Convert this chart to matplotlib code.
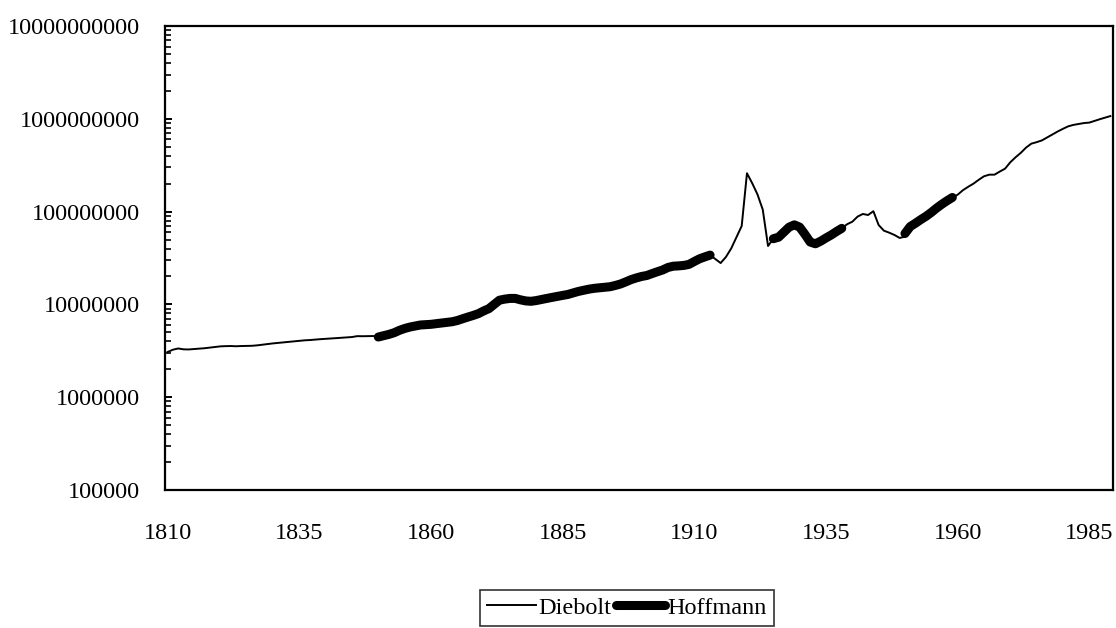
import matplotlib
matplotlib.use("Agg")
import matplotlib.pyplot as plt
from matplotlib.ticker import FixedLocator, LogLocator, NullFormatter

# Diebolt series, annual values 1810-1989
diebolt_years = list(range(1810, 1990))
diebolt = [
    # 1810-1849
    3.07e6, 3.25e6, 3.35e6, 3.28e6, 3.27e6, 3.30e6, 3.33e6, 3.37e6, 3.42e6, 3.48e6,
    3.53e6, 3.55e6, 3.56e6, 3.54e6, 3.56e6, 3.57e6, 3.58e6, 3.62e6, 3.68e6, 3.74e6,
    3.80e6, 3.85e6, 3.90e6, 3.96e6, 4.00e6, 4.05e6, 4.10e6, 4.13e6, 4.18e6, 4.22e6,
    4.26e6, 4.30e6, 4.33e6, 4.37e6, 4.40e6, 4.45e6, 4.55e6, 4.54e6, 4.55e6, 4.56e6,
    # 1850-1889
    4.50e6, 4.60e6, 4.75e6, 4.95e6, 5.25e6, 5.50e6, 5.70e6, 5.85e6, 6.00e6, 6.05e6,
    6.10e6, 6.20e6, 6.30e6, 6.40e6, 6.50e6, 6.70e6, 7.00e6, 7.30e6, 7.60e6, 7.95e6,
    8.50e6, 9.00e6, 1.00e7, 1.11e7, 1.14e7, 1.16e7, 1.16e7, 1.12e7, 1.09e7, 1.08e7,
    1.10e7, 1.13e7, 1.16e7, 1.19e7, 1.22e7, 1.25e7, 1.28e7, 1.33e7, 1.38e7, 1.42e7,
    # 1890-1929
    1.46e7, 1.49e7, 1.51e7, 1.53e7, 1.55e7, 1.60e7, 1.66e7, 1.75e7, 1.85e7, 1.93e7,
    2.00e7, 2.05e7, 2.15e7, 2.25e7, 2.35e7, 2.50e7, 2.58e7, 2.60e7, 2.63e7, 2.70e7,
    2.90e7, 3.10e7, 3.25e7, 3.40e7, 3.08e7, 2.79e7, 3.24e7, 4.00e7, 5.30e7, 7.00e7,
    2.59e8, 2.02e8, 1.53e8, 1.05e8, 4.26e7, 5.10e7, 5.30e7, 6.00e7, 6.80e7, 7.20e7,
    # 1930-1969
    6.80e7, 5.70e7, 4.70e7, 4.50e7, 4.80e7, 5.20e7, 5.60e7, 6.10e7, 6.60e7, 7.30e7,
    7.78e7, 8.83e7, 9.43e7, 9.19e7, 1.01e8, 7.17e7, 6.23e7, 5.93e7, 5.60e7, 5.20e7,
    5.37e7, 6.90e7, 7.50e7, 8.20e7, 8.90e7, 9.80e7, 1.09e8, 1.20e8, 1.31e8, 1.42e8,
    1.52e8, 1.70e8, 1.85e8, 2.00e8, 2.20e8, 2.40e8, 2.50e8, 2.50e8, 2.70e8, 2.90e8,
    # 1970-1989
    3.40e8, 3.85e8, 4.30e8, 4.90e8, 5.40e8, 5.60e8, 5.85e8, 6.30e8, 6.80e8, 7.30e8,
    7.80e8, 8.30e8, 8.60e8, 8.80e8, 9.00e8, 9.10e8, 9.50e8, 9.90e8, 1.03e9, 1.07e9,
]

# Hoffmann series, three separate stretches
hoff_years_1 = list(range(1850, 1914))
hoff_1 = [
    4.45e6, 4.60e6, 4.75e6, 4.95e6, 5.25e6, 5.50e6, 5.70e6, 5.85e6, 6.00e6, 6.05e6,
    6.10e6, 6.20e6, 6.30e6, 6.40e6, 6.50e6, 6.70e6, 7.00e6, 7.30e6, 7.60e6, 7.95e6,
    8.50e6, 9.00e6, 1.00e7, 1.11e7, 1.14e7, 1.16e7, 1.16e7, 1.12e7, 1.09e7, 1.08e7,
    1.10e7, 1.13e7, 1.16e7, 1.19e7, 1.22e7, 1.25e7, 1.28e7, 1.33e7, 1.38e7, 1.42e7,
    1.46e7, 1.49e7, 1.51e7, 1.53e7, 1.55e7, 1.60e7, 1.66e7, 1.75e7, 1.85e7, 1.93e7,
    2.00e7, 2.05e7, 2.15e7, 2.25e7, 2.35e7, 2.50e7, 2.58e7, 2.60e7, 2.63e7, 2.70e7,
    2.90e7, 3.10e7, 3.25e7, 3.40e7,
]
hoff_years_2 = list(range(1925, 1939))
hoff_2 = [5.10e7, 5.30e7, 6.00e7, 6.80e7, 7.20e7, 6.80e7, 5.70e7, 4.70e7, 4.50e7,
          4.80e7, 5.20e7, 5.60e7, 6.10e7, 6.60e7]
hoff_years_3 = list(range(1950, 1960))
hoff_3 = [5.80e7, 6.90e7, 7.50e7, 8.20e7, 8.90e7, 9.80e7, 1.09e8, 1.20e8, 1.31e8, 1.42e8]

x_ticks = [1810, 1835, 1860, 1885, 1910, 1935, 1960, 1985]
y_ticks = [1e5, 1e6, 1e7, 1e8, 1e9, 1e10]

plt.rcParams["font.family"] = ["Liberation Serif", "DejaVu Serif"]

fig = plt.figure(figsize=(11.16, 6.28), dpi=100)
ax = fig.add_axes([165 / 1116, 1 - 490 / 628, (1113 - 165) / 1116, (490 - 26) / 628])

hoff_kw = dict(color="black", lw=6.5, solid_capstyle="round", solid_joinstyle="round")
ax.plot(diebolt_years, diebolt, color="black", lw=1.4, label="Diebolt")
ax.plot(hoff_years_1, hoff_1, label="Hoffmann", **hoff_kw)
ax.plot(hoff_years_2, hoff_2, **hoff_kw)
ax.plot(hoff_years_3, hoff_3, **hoff_kw)

ax.set_yscale("log")
ax.set_ylim(1e5, 1e10)
ax.set_xlim(1809.5, 1989.5)

ax.yaxis.set_major_locator(FixedLocator(y_ticks))
ax.set_yticklabels([str(int(v)) for v in y_ticks])
ax.yaxis.set_minor_locator(LogLocator(base=10, subs=range(2, 10)))
ax.yaxis.set_minor_formatter(NullFormatter())
ax.tick_params(axis="y", which="major", direction="in", length=5, width=1.4,
               labelsize=17.5, pad=18)
ax.tick_params(axis="y", which="minor", direction="in", length=4, width=1.2)

ax.set_xticks(x_ticks)
ax.set_xticklabels([str(y) for y in x_ticks])
ax.tick_params(axis="x", length=0, labelsize=17.5, pad=24)

for s in ax.spines.values():
    s.set_linewidth(1.6)

leg = fig.legend(loc="lower center", bbox_to_anchor=(627 / 1116, 0.003), ncol=2,
                 fontsize=17.5, frameon=True, fancybox=False, handlelength=2.0,
                 handletextpad=0.1, columnspacing=0.2, borderpad=0.3,
                 borderaxespad=0)
leg.get_frame().set_edgecolor("black")
leg.get_frame().set_linewidth(1.2)

fig.savefig("out.png", dpi=100)
